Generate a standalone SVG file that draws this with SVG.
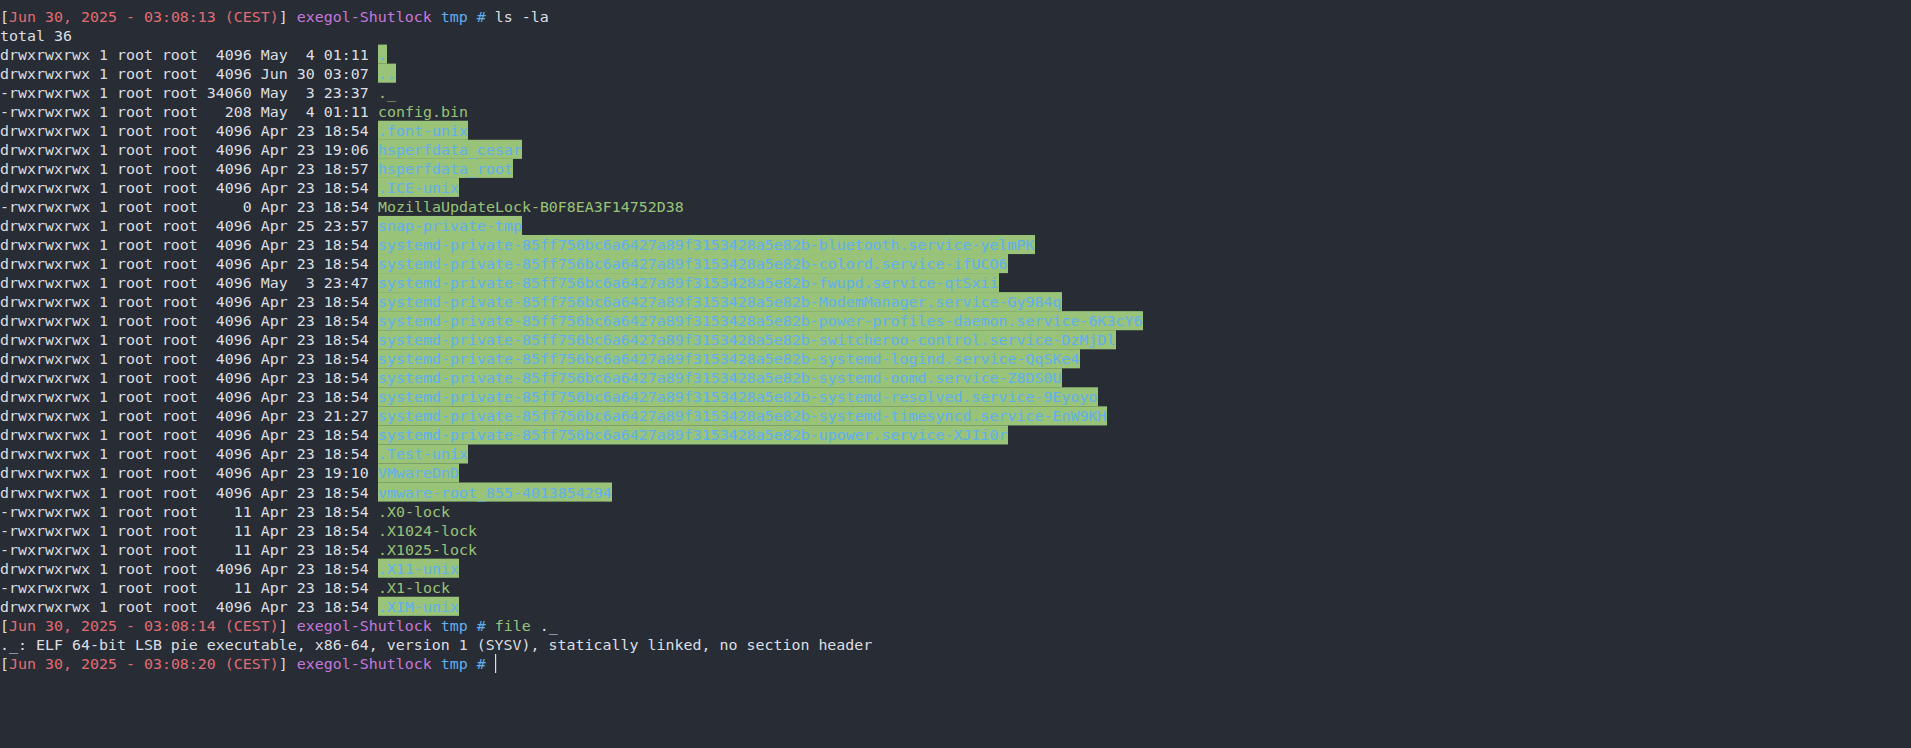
<svg xmlns="http://www.w3.org/2000/svg" width="1911" height="748" viewBox="0 0 1911 748" xml:space="preserve">
<style>
.t{font-family:"DejaVu Sans Mono","Liberation Mono",monospace;font-size:14.95px;fill:#dcdfe4;white-space:pre}
.b{fill:#61afef}
.g{fill:#98c379}
.r{fill:#e06c75}
.p{fill:#c678dd}
.hl{fill:#98c379}
</style>
<rect x="0" y="0" width="1911" height="748" fill="#282c34"/>
<g id="highlights">
<rect class="hl" x="378" y="44.58" width="9" height="19.1"/>
<rect class="hl" x="378" y="63.62" width="18" height="19.1"/>
<rect class="hl" x="378" y="120.74" width="90" height="19.1"/>
<rect class="hl" x="378" y="139.78" width="144" height="19.1"/>
<rect class="hl" x="378" y="158.82" width="135" height="19.1"/>
<rect class="hl" x="378" y="177.86" width="81" height="19.1"/>
<rect class="hl" x="378" y="215.94" width="144" height="19.1"/>
<rect class="hl" x="378" y="234.98" width="657" height="19.1"/>
<rect class="hl" x="378" y="254.02" width="630" height="19.1"/>
<rect class="hl" x="378" y="273.06" width="621" height="19.1"/>
<rect class="hl" x="378" y="292.1" width="684" height="19.1"/>
<rect class="hl" x="378" y="311.14" width="765" height="19.1"/>
<rect class="hl" x="378" y="330.18" width="738" height="19.1"/>
<rect class="hl" x="378" y="349.22" width="702" height="19.1"/>
<rect class="hl" x="378" y="368.26" width="684" height="19.1"/>
<rect class="hl" x="378" y="387.3" width="720" height="19.1"/>
<rect class="hl" x="378" y="406.34" width="729" height="19.1"/>
<rect class="hl" x="378" y="425.38" width="630" height="19.1"/>
<rect class="hl" x="378" y="444.42" width="90" height="19.1"/>
<rect class="hl" x="378" y="463.46" width="81" height="19.1"/>
<rect class="hl" x="378" y="482.5" width="234" height="19.1"/>
<rect class="hl" x="378" y="558.66" width="81" height="19.1"/>
<rect class="hl" x="378" y="596.74" width="81" height="19.1"/>
</g>
<g id="prompt1">
<text class="t" x="0" y="21.5">[<tspan class="r">Jun 30, 2025 - 03:08:13 (CEST)</tspan>] <tspan class="p">exegol-Shutlock</tspan> <tspan class="b">tmp #</tspan> ls -la</text>
</g>
<g id="listing">
<text class="t" x="0" y="40.54">total 36</text>
<text class="t" x="0" y="59.58">drwxrwxrwx 1 root root  4096 May  4 01:11<tspan class="b" x="378">.</tspan></text>
<text class="t" x="0" y="78.62">drwxrwxrwx 1 root root  4096 Jun 30 03:07<tspan class="b" x="378">..</tspan></text>
<text class="t" x="0" y="97.66">-rwxrwxrwx 1 root root 34060 May  3 23:37<tspan class="g" x="378">._</tspan></text>
<text class="t" x="0" y="116.7">-rwxrwxrwx 1 root root   208 May  4 01:11<tspan class="g" x="378">config.bin</tspan></text>
<text class="t" x="0" y="135.74">drwxrwxrwx 1 root root  4096 Apr 23 18:54<tspan class="b" x="378">.font-unix</tspan></text>
<text class="t" x="0" y="154.78">drwxrwxrwx 1 root root  4096 Apr 23 19:06<tspan class="b" x="378">hsperfdata_cesar</tspan></text>
<text class="t" x="0" y="173.82">drwxrwxrwx 1 root root  4096 Apr 23 18:57<tspan class="b" x="378">hsperfdata_root</tspan></text>
<text class="t" x="0" y="192.86">drwxrwxrwx 1 root root  4096 Apr 23 18:54<tspan class="b" x="378">.ICE-unix</tspan></text>
<text class="t" x="0" y="211.9">-rwxrwxrwx 1 root root     0 Apr 23 18:54<tspan class="g" x="378">MozillaUpdateLock-B0F8EA3F14752D38</tspan></text>
<text class="t" x="0" y="230.94">drwxrwxrwx 1 root root  4096 Apr 25 23:57<tspan class="b" x="378">snap-private-tmp</tspan></text>
<text class="t" x="0" y="249.98">drwxrwxrwx 1 root root  4096 Apr 23 18:54<tspan class="b" x="378">systemd-private-85ff756bc6a6427a89f3153428a5e82b-bluetooth.service-yelmPK</tspan></text>
<text class="t" x="0" y="269.02">drwxrwxrwx 1 root root  4096 Apr 23 18:54<tspan class="b" x="378">systemd-private-85ff756bc6a6427a89f3153428a5e82b-colord.service-ifUCO6</tspan></text>
<text class="t" x="0" y="288.06">drwxrwxrwx 1 root root  4096 May  3 23:47<tspan class="b" x="378">systemd-private-85ff756bc6a6427a89f3153428a5e82b-fwupd.service-qtSxii</tspan></text>
<text class="t" x="0" y="307.1">drwxrwxrwx 1 root root  4096 Apr 23 18:54<tspan class="b" x="378">systemd-private-85ff756bc6a6427a89f3153428a5e82b-ModemManager.service-Gy984q</tspan></text>
<text class="t" x="0" y="326.14">drwxrwxrwx 1 root root  4096 Apr 23 18:54<tspan class="b" x="378">systemd-private-85ff756bc6a6427a89f3153428a5e82b-power-profiles-daemon.service-6K3cY6</tspan></text>
<text class="t" x="0" y="345.18">drwxrwxrwx 1 root root  4096 Apr 23 18:54<tspan class="b" x="378">systemd-private-85ff756bc6a6427a89f3153428a5e82b-switcheroo-control.service-DzMjDl</tspan></text>
<text class="t" x="0" y="364.22">drwxrwxrwx 1 root root  4096 Apr 23 18:54<tspan class="b" x="378">systemd-private-85ff756bc6a6427a89f3153428a5e82b-systemd-logind.service-QqSKe4</tspan></text>
<text class="t" x="0" y="383.26">drwxrwxrwx 1 root root  4096 Apr 23 18:54<tspan class="b" x="378">systemd-private-85ff756bc6a6427a89f3153428a5e82b-systemd-oomd.service-Z8DS0U</tspan></text>
<text class="t" x="0" y="402.3">drwxrwxrwx 1 root root  4096 Apr 23 18:54<tspan class="b" x="378">systemd-private-85ff756bc6a6427a89f3153428a5e82b-systemd-resolved.service-9Eyoyo</tspan></text>
<text class="t" x="0" y="421.34">drwxrwxrwx 1 root root  4096 Apr 23 21:27<tspan class="b" x="378">systemd-private-85ff756bc6a6427a89f3153428a5e82b-systemd-timesyncd.service-EnW9KH</tspan></text>
<text class="t" x="0" y="440.38">drwxrwxrwx 1 root root  4096 Apr 23 18:54<tspan class="b" x="378">systemd-private-85ff756bc6a6427a89f3153428a5e82b-upower.service-XJIi0r</tspan></text>
<text class="t" x="0" y="459.42">drwxrwxrwx 1 root root  4096 Apr 23 18:54<tspan class="b" x="378">.Test-unix</tspan></text>
<text class="t" x="0" y="478.46">drwxrwxrwx 1 root root  4096 Apr 23 19:10<tspan class="b" x="378">VMwareDnD</tspan></text>
<text class="t" x="0" y="497.5">drwxrwxrwx 1 root root  4096 Apr 23 18:54<tspan class="b" x="378">vmware-root_855-4013854294</tspan></text>
<text class="t" x="0" y="516.54">-rwxrwxrwx 1 root root    11 Apr 23 18:54<tspan class="g" x="378">.X0-lock</tspan></text>
<text class="t" x="0" y="535.58">-rwxrwxrwx 1 root root    11 Apr 23 18:54<tspan class="g" x="378">.X1024-lock</tspan></text>
<text class="t" x="0" y="554.62">-rwxrwxrwx 1 root root    11 Apr 23 18:54<tspan class="g" x="378">.X1025-lock</tspan></text>
<text class="t" x="0" y="573.66">drwxrwxrwx 1 root root  4096 Apr 23 18:54<tspan class="b" x="378">.X11-unix</tspan></text>
<text class="t" x="0" y="592.7">-rwxrwxrwx 1 root root    11 Apr 23 18:54<tspan class="g" x="378">.X1-lock</tspan></text>
<text class="t" x="0" y="611.74">drwxrwxrwx 1 root root  4096 Apr 23 18:54<tspan class="b" x="378">.XIM-unix</tspan></text>
</g>
<g id="prompt2">
<text class="t" x="0" y="630.78">[<tspan class="r">Jun 30, 2025 - 03:08:14 (CEST)</tspan>] <tspan class="p">exegol-Shutlock</tspan> <tspan class="b">tmp #</tspan> <tspan class="g">file</tspan> ._</text>
<text class="t" x="0" y="649.82">._: ELF 64-bit LSB pie executable, x86-64, version 1 (SYSV), statically linked, no section header</text>
</g>
<g id="prompt3">
<text class="t" x="0" y="668.86">[<tspan class="r">Jun 30, 2025 - 03:08:20 (CEST)</tspan>] <tspan class="p">exegol-Shutlock</tspan> <tspan class="b">tmp #</tspan></text>
<rect id="cursor" x="495" y="654" width="1.2" height="19" fill="#dcdfe4"/>
</g>
</svg>
